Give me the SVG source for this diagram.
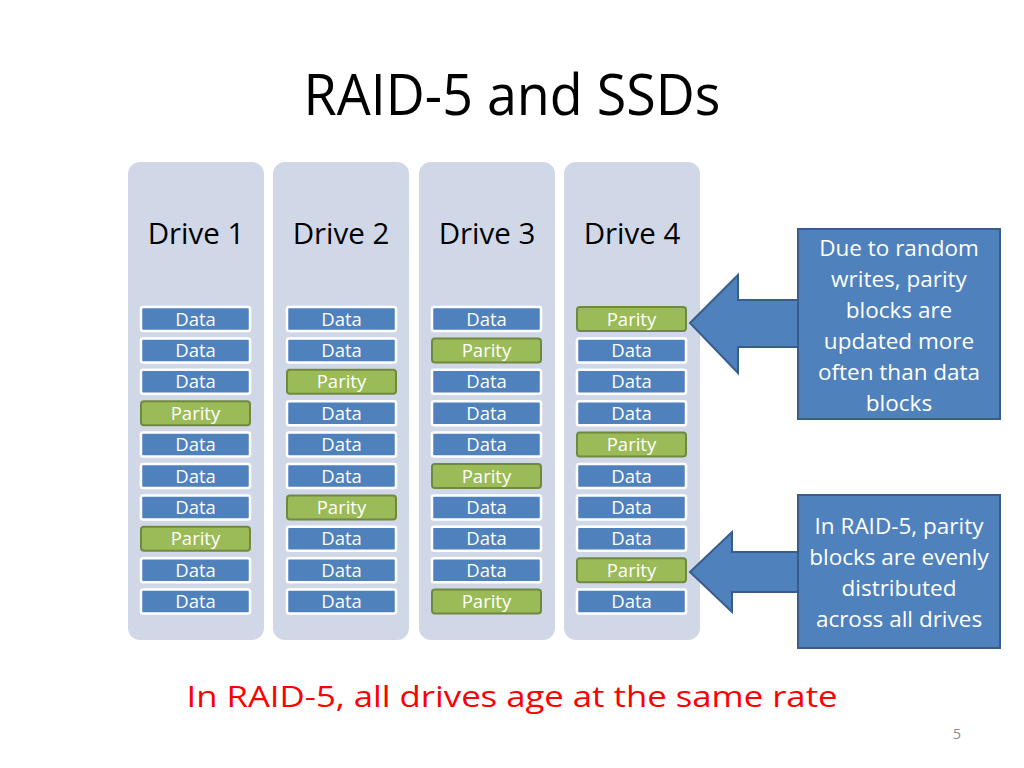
<svg xmlns="http://www.w3.org/2000/svg" width="1024" height="768" viewBox="0 0 1024 768">
<defs>
<style>
.panel{fill:#D0D8E8;}
.d rect{fill:#4F81BD;stroke:#FFFFFF;stroke-width:2.5;}
.p rect{fill:#9BBB59;stroke:#71893F;stroke-width:2;}
.blk text{font-family:"Open Sans","Liberation Sans",sans-serif;font-size:18.5px;fill:#FFFFFF;text-anchor:middle;}
.dl{font-family:"Open Sans","Liberation Sans",sans-serif;font-size:29.5px;fill:#000000;text-anchor:middle;}
.box{fill:#4F81BD;stroke:#385D8A;stroke-width:2;}
.ct{font-family:"Open Sans","Liberation Sans",sans-serif;font-size:22.5px;fill:#FFFFFF;text-anchor:middle;}
</style>
</defs>
<rect width="1024" height="768" fill="#FFFFFF"/>
<text x="512" y="115" font-family="'Open Sans','Liberation Sans',sans-serif" font-size="57" text-anchor="middle" fill="#000000" textLength="417" lengthAdjust="spacingAndGlyphs">RAID-5 and SSDs</text>

<g id="drive1">
<rect class="panel" x="128" y="162" width="136" height="478" rx="12"/>
<text class="dl" x="196" y="244">Drive 1</text>
<g class="blk">
<g class="d"><rect x="141" y="307" width="109" height="24" rx="2"/><text x="195.5" y="325.5">Data</text></g>
<g class="d"><rect x="141" y="338.4" width="109" height="24" rx="2"/><text x="195.5" y="356.9">Data</text></g>
<g class="d"><rect x="141" y="369.8" width="109" height="24" rx="2"/><text x="195.5" y="388.3">Data</text></g>
<g class="p"><rect x="141" y="401.2" width="109" height="24" rx="3"/><text x="195.5" y="419.7">Parity</text></g>
<g class="d"><rect x="141" y="432.6" width="109" height="24" rx="2"/><text x="195.5" y="451.1">Data</text></g>
<g class="d"><rect x="141" y="464" width="109" height="24" rx="2"/><text x="195.5" y="482.5">Data</text></g>
<g class="d"><rect x="141" y="495.4" width="109" height="24" rx="2"/><text x="195.5" y="513.9">Data</text></g>
<g class="p"><rect x="141" y="526.8" width="109" height="24" rx="3"/><text x="195.5" y="545.3">Parity</text></g>
<g class="d"><rect x="141" y="558.2" width="109" height="24" rx="2"/><text x="195.5" y="576.7">Data</text></g>
<g class="d"><rect x="141" y="589.6" width="109" height="24" rx="2"/><text x="195.5" y="608.1">Data</text></g>
</g>
</g>

<g id="drive2">
<rect class="panel" x="273" y="162" width="136" height="478" rx="12"/>
<text class="dl" x="341" y="244">Drive 2</text>
<g class="blk">
<g class="d"><rect x="287" y="307" width="109" height="24" rx="2"/><text x="341.5" y="325.5">Data</text></g>
<g class="d"><rect x="287" y="338.4" width="109" height="24" rx="2"/><text x="341.5" y="356.9">Data</text></g>
<g class="p"><rect x="287" y="369.8" width="109" height="24" rx="3"/><text x="341.5" y="388.3">Parity</text></g>
<g class="d"><rect x="287" y="401.2" width="109" height="24" rx="2"/><text x="341.5" y="419.7">Data</text></g>
<g class="d"><rect x="287" y="432.6" width="109" height="24" rx="2"/><text x="341.5" y="451.1">Data</text></g>
<g class="d"><rect x="287" y="464" width="109" height="24" rx="2"/><text x="341.5" y="482.5">Data</text></g>
<g class="p"><rect x="287" y="495.4" width="109" height="24" rx="3"/><text x="341.5" y="513.9">Parity</text></g>
<g class="d"><rect x="287" y="526.8" width="109" height="24" rx="2"/><text x="341.5" y="545.3">Data</text></g>
<g class="d"><rect x="287" y="558.2" width="109" height="24" rx="2"/><text x="341.5" y="576.7">Data</text></g>
<g class="d"><rect x="287" y="589.6" width="109" height="24" rx="2"/><text x="341.5" y="608.1">Data</text></g>
</g>
</g>

<g id="drive3">
<rect class="panel" x="419" y="162" width="136" height="478" rx="12"/>
<text class="dl" x="487" y="244">Drive 3</text>
<g class="blk">
<g class="d"><rect x="432" y="307" width="109" height="24" rx="2"/><text x="486.5" y="325.5">Data</text></g>
<g class="p"><rect x="432" y="338.4" width="109" height="24" rx="3"/><text x="486.5" y="356.9">Parity</text></g>
<g class="d"><rect x="432" y="369.8" width="109" height="24" rx="2"/><text x="486.5" y="388.3">Data</text></g>
<g class="d"><rect x="432" y="401.2" width="109" height="24" rx="2"/><text x="486.5" y="419.7">Data</text></g>
<g class="d"><rect x="432" y="432.6" width="109" height="24" rx="2"/><text x="486.5" y="451.1">Data</text></g>
<g class="p"><rect x="432" y="464" width="109" height="24" rx="3"/><text x="486.5" y="482.5">Parity</text></g>
<g class="d"><rect x="432" y="495.4" width="109" height="24" rx="2"/><text x="486.5" y="513.9">Data</text></g>
<g class="d"><rect x="432" y="526.8" width="109" height="24" rx="2"/><text x="486.5" y="545.3">Data</text></g>
<g class="d"><rect x="432" y="558.2" width="109" height="24" rx="2"/><text x="486.5" y="576.7">Data</text></g>
<g class="p"><rect x="432" y="589.6" width="109" height="24" rx="3"/><text x="486.5" y="608.1">Parity</text></g>
</g>
</g>

<g id="drive4">
<rect class="panel" x="564" y="162" width="136" height="478" rx="12"/>
<text class="dl" x="632" y="244">Drive 4</text>
<g class="blk">
<g class="p"><rect x="577" y="307" width="109" height="24" rx="3"/><text x="631.5" y="325.5">Parity</text></g>
<g class="d"><rect x="577" y="338.4" width="109" height="24" rx="2"/><text x="631.5" y="356.9">Data</text></g>
<g class="d"><rect x="577" y="369.8" width="109" height="24" rx="2"/><text x="631.5" y="388.3">Data</text></g>
<g class="d"><rect x="577" y="401.2" width="109" height="24" rx="2"/><text x="631.5" y="419.7">Data</text></g>
<g class="p"><rect x="577" y="432.6" width="109" height="24" rx="3"/><text x="631.5" y="451.1">Parity</text></g>
<g class="d"><rect x="577" y="464" width="109" height="24" rx="2"/><text x="631.5" y="482.5">Data</text></g>
<g class="d"><rect x="577" y="495.4" width="109" height="24" rx="2"/><text x="631.5" y="513.9">Data</text></g>
<g class="d"><rect x="577" y="526.8" width="109" height="24" rx="2"/><text x="631.5" y="545.3">Data</text></g>
<g class="p"><rect x="577" y="558.2" width="109" height="24" rx="3"/><text x="631.5" y="576.7">Parity</text></g>
<g class="d"><rect x="577" y="589.6" width="109" height="24" rx="2"/><text x="631.5" y="608.1">Data</text></g>
</g>
</g>

<g id="connectors">
<path class="box" d="M690,323 L738,275 L738,300 L798,300 L798,347 L738,347 L738,373 Z"/>
<path class="box" d="M690,572 L732,532 L732,552 L798,552 L798,592 L732,592 L732,612 Z"/>
</g>

<g id="callout1">
<rect class="box" x="798" y="229" width="202" height="190"/>
<text class="ct" x="899" y="256">Due to random</text>
<text class="ct" x="899" y="287">writes, parity</text>
<text class="ct" x="899" y="318">blocks are</text>
<text class="ct" x="899" y="349">updated more</text>
<text class="ct" x="899" y="380">often than data</text>
<text class="ct" x="899" y="411">blocks</text>
</g>

<g id="callout2">
<rect class="box" x="798" y="495" width="202" height="153"/>
<text class="ct" x="899" y="534">In RAID-5, parity</text>
<text class="ct" x="899" y="565">blocks are evenly</text>
<text class="ct" x="899" y="596">distributed</text>
<text class="ct" x="899" y="627">across all drives</text>
</g>

<text x="512" y="707" font-family="'Open Sans','Liberation Sans',sans-serif" font-size="30" text-anchor="middle" fill="#FF0000" textLength="651" lengthAdjust="spacingAndGlyphs">In RAID-5, all drives age at the same rate</text>
<text x="957" y="739" font-family="'Open Sans','Liberation Sans',sans-serif" font-size="14" text-anchor="middle" fill="#898989">5</text>
</svg>
